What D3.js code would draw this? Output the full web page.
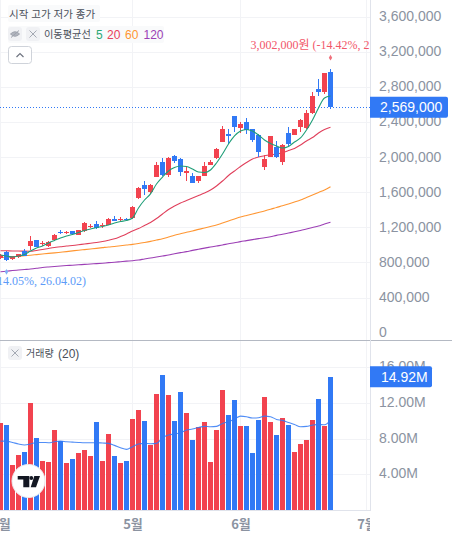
<!DOCTYPE html>
<html lang="ko">
<head>
<meta charset="utf-8">
<script src="https://cdn.jsdelivr.net/npm/d3@7/dist/d3.min.js"></script>
<style>
html,body{margin:0;padding:0;background:#fff;overflow:hidden}
svg{display:block}
text{font-family:"Liberation Sans","Noto Sans CJK KR",sans-serif}
.kr{font-family:"Noto Sans CJK KR",sans-serif}
</style>
</head>
<body>
<svg id="c" width="452" height="542"></svg>
<script>
// ---- values (prices in thousand KRW, volumes in millions) ----
const opens  = [850,922,835,858,930,987,1055,1013,987,1055,1146,1135,1154,1116,1158,1203,1238,1215,1230,1291,1280,1291,1306,1530,1682,1606,1777,1941,1796,2013,1982,1822,1788,1728,1788,1913,1990,2176,2260,2468,2335,2400,2320,2252,1887,2001,2115,1944,2275,2252,2343,2332,2503,2776,2742,2970];
const highs  = [896,928,876,895,949,1101,1060,1044,1047,1124,1169,1158,1163,1172,1255,1234,1272,1246,1309,1329,1314,1309,1443,1656,1731,1693,1944,1990,2005,2027,1990,1899,1815,1785,1944,1967,2100,2354,2320,2468,2400,2446,2320,2263,2024,2240,2183,2149,2343,2320,2434,2537,2742,2890,2958,3002];
const lows   = [839,818,832,855,873,941,976,990,972,1047,1124,1124,1116,1113,1152,1189,1177,1192,1223,1268,1264,1268,1298,1519,1568,1580,1770,1785,1773,1936,1785,1724,1701,1701,1785,1910,1978,2169,2149,2286,2271,2263,2176,1998,1856,2001,1990,1910,2115,2252,2286,2320,2491,2696,2719,2545];
const closes = [884,822,873,892,876,1044,979,1025,1036,1112,1132,1146,1124,1169,1246,1218,1195,1226,1291,1272,1291,1280,1428,1644,1640,1682,1910,1796,1990,1959,1834,1842,1708,1785,1899,1944,2092,2320,2244,2343,2377,2309,2195,2058,1978,2240,2001,2138,2149,2320,2423,2503,2696,2742,2958,2569];
const volumes = [9.74,9.5,5.04,6.16,6.46,11.98,8.06,5.49,5.37,8.96,7.72,5.26,5.71,6.38,6.72,6.04,9.85,5.49,8.5,6.04,5.26,5.49,10.19,11.19,9.96,7.28,12.99,15.1,12.87,9.96,13.2,10.86,7.84,9.25,9.85,5.37,8.96,13.43,10.63,12.31,9.4,9.4,6.38,10.07,12.65,9.85,8.4,10.3,9.5,6.49,7.39,7.84,10.07,12.43,9.4,14.92];
const volumeMA = [7.72,7.72,7.57,7.39,7.28,7.39,7.57,7.57,7.54,7.65,7.72,7.65,7.61,7.57,7.54,7.54,7.54,7.5,7.46,7.24,6.98,6.79,7.09,7.39,7.46,7.43,7.46,8.10,8.40,8.51,8.66,8.96,9.07,9.25,9.37,9.33,9.37,9.70,9.89,10.19,10.52,10.45,10.30,10.34,10.52,10.45,10.15,10.04,9.81,9.59,9.33,9.37,9.51,9.59,9.55,10.04];
const ma5   = [884,873,862,873,890,930,964,987,1021,1050,1078,1101,1118,1141,1164,1181,1198,1209,1226,1249,1266,1278,1306,1420,1511,1580,1693,1773,1842,1882,1899,1893,1864,1830,1825,1853,1933,2035,2149,2241,2297,2315,2297,2252,2195,2155,2127,2104,2121,2172,2218,2309,2423,2560,2674,2696];
const ma20  = [933,932,930,930,928,927,936,947,959,970,978,987,993,1001,1010,1018,1027,1038,1052,1069,1095,1124,1158,1186,1221,1255,1300,1352,1403,1443,1477,1505,1534,1562,1591,1625,1671,1728,1790,1842,1893,1939,1978,2001,2015,2026,2035,2049,2075,2098,2138,2184,2223,2275,2315,2340];
const ma60  = [856,858,862,869,876,882,889,896,903,909,916,923,931,939,946,953,960,968,976,982,990,998,1005,1015,1027,1040,1055,1070,1089,1109,1126,1143,1158,1176,1192,1209,1226,1249,1272,1295,1317,1335,1352,1369,1386,1405,1426,1445,1466,1488,1511,1540,1568,1597,1625,1663];
const ma120 = [694,700,707,713,719,725,733,742,748,753,759,764,768,773,777,782,786,791,797,802,808,814,819,827,839,850,861,873,884,898,911,923,937,950,963,975,987,998,1012,1023,1037,1048,1060,1071,1081,1093,1108,1121,1135,1149,1164,1181,1198,1215,1238,1257];
const priceTicks = [0,400,800,1200,1600,2000,2400,2800,3200,3600];
const volumeTicks = [4,8,12,16];
const monthLabels = ["4월","5월","6월","7월"];
const monthBars = [0,22,40,61];
const lastPrice = 2569;
const lastVolume = 14.92;
const highNote = "3,002,000원 (-14.42%, 2";
const lowNote = "14.05%, 26.04.02)";
const highBar = 55, highValue = 3002, lowBar = 1, lowValue = 818;

const RED="#f2434f", BLUE="#3179f5", GRID="#f2f3f6", AXIS="#e0e3eb", TXT="#8b93a1";
const svg = d3.select("#c");
const W=452, H=542, axisX=370, sepY=340, volBottom=510;

const x = d3.scaleLinear().domain([0,61]).range([0.5,366.5]);
const yP = d3.scaleLinear().domain([0,3600]).range([332.6,16.7]);
const yV = d3.scaleLinear().domain([0,16]).range([volBottom,367.2]);

const defs = svg.append("defs");
defs.append("clipPath").attr("id","plot").append("rect").attr("x",0).attr("y",0).attr("width",axisX).attr("height",sepY);
defs.append("clipPath").attr("id","time").append("rect").attr("x",0).attr("y",volBottom).attr("width",axisX).attr("height",H-volBottom);

// gridlines
const grid = svg.append("g");
grid.selectAll(".hp").data(priceTicks.filter(d=>d>0)).join("rect")
  .attr("x",0).attr("width",axisX).attr("y",d=>Math.round(yP(d))).attr("height",1).attr("fill",GRID);
grid.selectAll(".hv").data(volumeTicks).join("rect").attr("class","hv")
  .attr("x",0).attr("width",axisX).attr("y",d=>Math.round(yV(d))).attr("height",1).attr("fill",GRID);
grid.selectAll(".vg").data(monthBars).join("rect").attr("class","vg")
  .attr("x",d=>x(d)-0.5).attr("y",0).attr("width",1).attr("height",volBottom).attr("fill",GRID);

// volume
svg.append("g").selectAll("rect").data(volumes).join("rect")
  .attr("x",(d,i)=>x(i)-2.5).attr("width",5)
  .attr("y",d=>Math.round(yV(d))).attr("height",d=>volBottom-Math.round(yV(d)))
  .attr("fill",(d,i)=>closes[i]>=opens[i]?RED:BLUE);
svg.append("path").datum(volumeMA)
  .attr("d",d3.line().x((d,i)=>x(i)).y(d=>yV(d)).curve(d3.curveMonotoneX))
  .attr("fill","none").attr("stroke",BLUE).attr("stroke-opacity",.85).attr("stroke-width",1.1);

// price pane
const plot = svg.append("g").attr("clip-path","url(#plot)");
const lastY = yP(lastPrice);
plot.append("line").attr("x1",0).attr("x2",axisX).attr("y1",Math.floor(lastY)+.5).attr("y2",Math.floor(lastY)+.5)
  .attr("stroke",BLUE).attr("stroke-width",1).attr("stroke-dasharray","1 2");

const line = d3.line().x((d,i)=>x(i)).y(d=>yP(d)).curve(d3.curveMonotoneX);
[[ma120,"#9c3fb5"],[ma60,"#ff9632"],[ma20,"#e0405c"]].forEach(([s,c])=>{
  plot.append("path").datum(s).attr("d",line).attr("fill","none").attr("stroke",c).attr("stroke-width",1.1);
});

const candles = plot.append("g").selectAll("g").data(opens).join("g")
  .attr("fill",(d,i)=>closes[i]>=opens[i]?RED:BLUE);
candles.append("rect").attr("x",(d,i)=>x(i)-0.5).attr("width",1)
  .attr("y",(d,i)=>Math.round(yP(highs[i])))
  .attr("height",(d,i)=>Math.max(1,Math.round(yP(lows[i]))-Math.round(yP(highs[i]))));
candles.append("rect").attr("x",(d,i)=>x(i)-2.5).attr("width",5)
  .attr("y",(d,i)=>Math.round(yP(Math.max(opens[i],closes[i]))))
  .attr("height",(d,i)=>Math.max(1,Math.round(yP(Math.min(opens[i],closes[i])))-Math.round(yP(Math.max(opens[i],closes[i])))));
plot.append("path").datum(ma5).attr("d",line).attr("fill","none").attr("stroke","#1f9e78").attr("stroke-width",1.1);

// high / low notes
const diamond = d3.symbol().type(d3.symbolDiamond).size(10);
plot.append("path").attr("d",diamond).attr("transform",`translate(${x(highBar)},${yP(highValue)-11.5})`).attr("fill","#f0707c");
plot.append("path").attr("d",diamond).attr("transform",`translate(${x(lowBar)},${yP(lowValue)+11})`).attr("fill","#7fb0f7");
plot.append("text").text(highNote).attr("x",250.5).attr("y",49)
  .style("font-family",'"Liberation Serif","Noto Sans CJK KR",serif').attr("font-size",12).attr("fill","#f2566a");
plot.append("text").text(lowNote).attr("x",86).attr("y",285).attr("text-anchor","end")
  .style("font-family",'"Liberation Serif","Noto Sans CJK KR",serif').attr("font-size",12).attr("fill","#5d9bf8");

// frames
svg.append("rect").attr("x",0).attr("y",sepY).attr("width",W).attr("height",1).attr("fill","#b4b9c3");
svg.append("rect").attr("x",axisX).attr("y",0).attr("width",1).attr("height",volBottom).attr("fill",AXIS);
svg.append("rect").attr("x",0).attr("y",volBottom).attr("width",axisX+1).attr("height",1).attr("fill",AXIS);

// axes
const axP = svg.append("g").attr("transform",`translate(${axisX},-0.5)`)
  .call(d3.axisRight(yP).tickValues(priceTicks).tickFormat(d=>d3.format(",")(d*1000)).tickSize(0).tickPadding(9));
axP.select(".domain").remove();
axP.selectAll("text").attr("font-size",14).attr("fill",TXT).style("font-family",'"Liberation Sans",sans-serif');
const axV = svg.append("g").attr("transform",`translate(${axisX},-1)`)
  .call(d3.axisRight(yV).tickValues(volumeTicks).tickFormat(d=>d3.format(".2f")(d)+"M").tickSize(0).tickPadding(9));
axV.select(".domain").remove();
axV.selectAll("text").attr("font-size",14).attr("fill",TXT).style("font-family",'"Liberation Sans",sans-serif');

const axT = svg.append("g").attr("clip-path","url(#time)").append("g").attr("transform",`translate(0,${volBottom})`)
  .call(d3.axisBottom(x).tickValues(monthBars).tickFormat((d,i)=>monthLabels[i]).tickSize(0).tickPadding(10));
axT.select(".domain").remove();
axT.selectAll("text").attr("font-size",13).attr("font-weight",600).attr("fill",TXT).attr("dy","0.7em")
  .style("font-family",'"Noto Sans CJK KR",sans-serif');

// last value tags
function tag(y,w,h,txt,tx){
  const g=svg.append("g");
  g.append("path").attr("d",`M${axisX} ${y-h/2}H${axisX+w-2}a2 2 0 0 1 2 2V${y+h/2-2}a2 2 0 0 1 -2 2H${axisX}Z`).attr("fill",BLUE);
  g.append("text").text(txt).attr("x",axisX+tx).attr("y",y).attr("dy","0.36em").attr("font-size",14).attr("fill","#fff")
    .style("font-family",'"Liberation Sans",sans-serif');
}
tag(lastY,78,21,d3.format(",")(lastPrice*1000),10);
tag(yV(lastVolume),62,21,d3.format(".2f")(lastVolume)+"M",11);

// legends
function btn(x0,y0,sz){ return svg.append("rect").attr("x",x0).attr("y",y0).attr("width",sz).attr("height",sz).attr("rx",3).attr("fill","#f0f1f4"); }
function xMark(cx,cy){ svg.append("path").attr("d",`M${cx-3.5} ${cy-3.5}L${cx+3.5} ${cy+3.5}M${cx+3.5} ${cy-3.5}L${cx-3.5} ${cy+3.5}`).attr("stroke","#a4a9b3").attr("stroke-width",1).attr("fill","none"); }

svg.append("rect").attr("x",8).attr("y",5).attr("width",92).attr("height",17).attr("rx",2).attr("fill","#f9fafb");
svg.append("text").attr("class","kr").text("시작 고가 저가 종가").attr("x",9).attr("y",17.5).attr("font-size",10.5).attr("fill","#4a4f5a");

svg.append("rect").attr("x",8).attr("y",26).attr("width",156).attr("height",17).attr("rx",2).attr("fill","#f9fafb");
btn(8,27,14); btn(26,27,14); xMark(33,34);
svg.append("path").attr("d","M10.5 34Q15 29.5 19.5 34Q15 38.5 10.5 34ZM11 37.5L19 30.5").attr("fill","#b0b4bd").attr("stroke","#9ea3ad").attr("stroke-width",1);
svg.append("text").attr("class","kr").text("이동평균선").attr("x",44).attr("y",38).attr("font-size",10.2).attr("fill","#4a4f5a");
[["5",96,"#2aa876"],["20",107,"#e8405c"],["60",125,"#ff9632"],["120",143.5,"#9c3fb5"]].forEach(([t,px,c])=>{
  svg.append("text").text(t).attr("x",px).attr("y",38.5).attr("font-size",12).attr("fill",c);
});
svg.append("rect").attr("x",8.5).attr("y",46.5).attr("width",23).attr("height",17).attr("rx",3).attr("fill","#fff").attr("stroke","#cfd3da");
svg.append("path").attr("d","M16.5 57L20 53.5L23.5 57").attr("fill","none").attr("stroke","#6f7581").attr("stroke-width",1.2);

btn(8,346,14); xMark(15,353);
svg.append("text").attr("class","kr").text("거래량").attr("x",26).attr("y",357).attr("font-size",10).attr("fill","#4a4f5a");
svg.append("text").text("(20)").attr("x",58).attr("y",357.5).attr("font-size",12).attr("fill","#4a4f5a");

// attribution logo
svg.append("circle").attr("cx",28.5).attr("cy",481).attr("r",16.5).attr("fill","#fff").attr("stroke","#eceef2");
svg.append("path").attr("d","M17.7 476H29.3V487.3H23.3V479.5H17.7ZM40 476L36 487.3H30.7L34.3 476Z").attr("fill","#131722");
svg.append("circle").attr("cx",31.3).attr("cy",478).attr("r",1.9).attr("fill","#131722");
</script>
</body>
</html>
